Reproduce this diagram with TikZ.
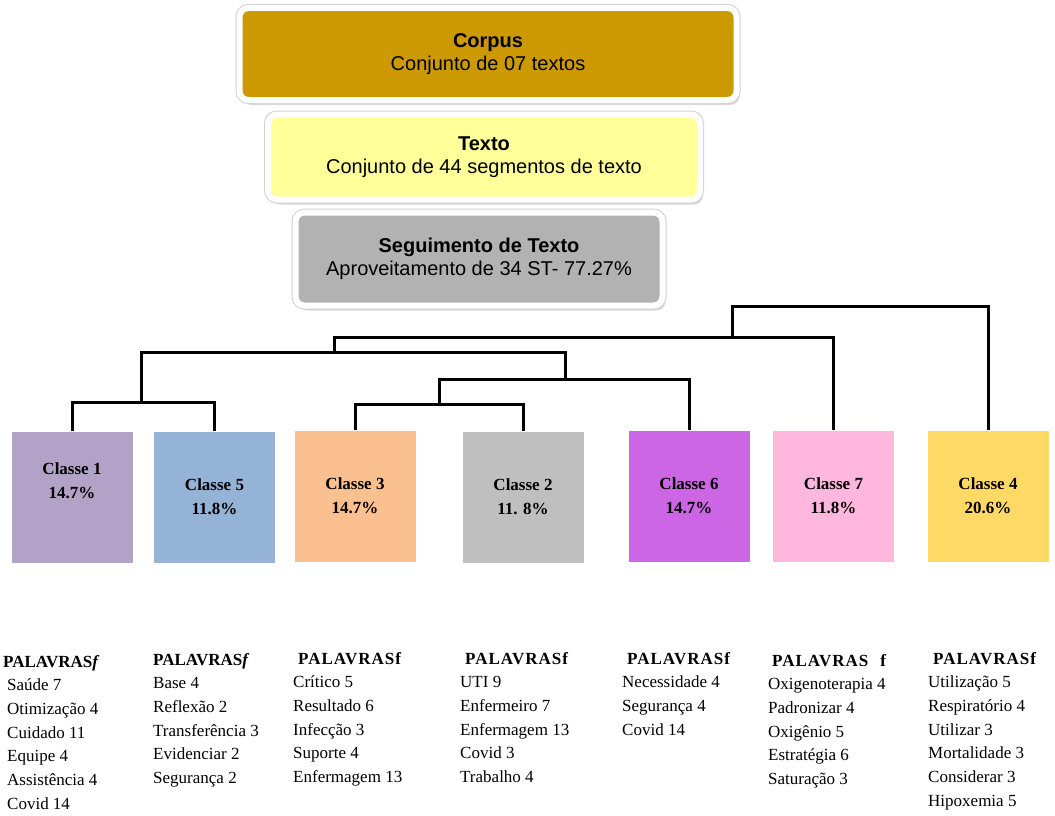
\documentclass[tikz,border=0pt]{standalone}
\usepackage{fontspec}
\setmainfont{Liberation Serif}
\newfontfamily\arialfont{Liberation Sans}
\usetikzlibrary{shadows}
\definecolor{corpusgold}{RGB}{204,153,0}
\definecolor{textoyellow}{RGB}{255,255,153}
\definecolor{stgray}{RGB}{178,178,178}
\definecolor{clsone}{RGB}{179,162,199}
\definecolor{clsfive}{RGB}{149,179,215}
\definecolor{clsthree}{RGB}{250,192,144}
\definecolor{clstwo}{RGB}{191,191,191}
\definecolor{clssix}{RGB}{204,102,229}
\definecolor{clsseven}{RGB}{255,183,222}
\definecolor{clsfour}{RGB}{255,217,102}

\begin{document}
\begin{tikzpicture}[
      x=1pt,y=-1pt,
      topbox/.style={draw=white,line width=6pt,rounded corners=9pt,align=center,inner sep=0pt,font=\arialfont\fontsize{20}{23}\selectfont,drop shadow={shadow xshift=3pt,shadow yshift=-5pt,opacity=0.3},preaction={draw=black!18,line width=8pt}},
      cls/.style={minimum width=121pt,minimum height=131pt,align=center,inner sep=0pt,font=\bfseries\fontsize{17}{24}\selectfont},
      words/.style={anchor=north west,align=left,inner sep=0pt,font=\fontsize{17}{23.7}\selectfont},
      link/.style={line width=3pt}
    ]
      \useasboundingbox (0,0) rectangle (1055,816);
      \node[topbox,fill=corpusgold,minimum width=497pt,minimum height=92pt] (corpus) at (488,54) {\textbf{Corpus}\\Conjunto de 07 textos};
      \node[topbox,fill=textoyellow,minimum width=432pt,minimum height=85pt] (texto) at (484,157) {\textbf{Texto}\\Conjunto de 44 segmentos de texto};
      \node[topbox,fill=stgray,minimum width=367pt,minimum height=93pt] (seg) at (479,259) {\textbf{Seguimento de Texto}\\Aproveitamento de 34 ST- 77.27\%};
      \node[cls,fill=clsone] (c1) at (72,497) {Classe 1\\14.7\%\\[8pt]};
      \node[cls,fill=clsfive] (c5) at (214.5,497) {Classe 5\\11.8\%};
      \node[cls,fill=clsthree] (c3) at (355,496) {Classe 3\\14.7\%};
      \node[cls,fill=clstwo] (c2) at (523,497) {Classe 2\\11. 8\%};
      \node[cls,fill=clssix] (c6) at (689,496) {Classe 6\\14.7\%};
      \node[cls,fill=clsseven] (c7) at (833.5,496) {Classe 7\\11.8\%};
      \node[cls,fill=clsfour] (c4) at (988,496) {Classe 4\\20.6\%};
      \coordinate (j15) at (141,402);
      \coordinate (j32) at (439,404);
      \coordinate (j326) at (565,379);
      \coordinate (j16) at (334,352);
      \coordinate (j17) at (732,337);
      \coordinate (jall) at (732,306);
      \draw[link] (c1.north) |- (j15) -| (c5.north);
      \draw[link] (c3.north) |- (j32) -| (c2.north);
      \draw[link] (j32) |- (j326) -| (c6.north);
      \draw[link] (j15) |- (j16) -| (j326);
      \draw[link] (j16) |- (j17) -| (c7.north);
      \draw[link] (j17) -- (jall) -| (c4.north);
      \node[words] (w1) at (7,655) {\hspace*{-4pt}\textbf{PALAVRAS\textit{f}}\\Saúde 7\\Otimização 4\\Cuidado 11\\Equipe 4\\Assistência 4\\Covid 14};
      \node[words] (w2) at (153,653) {\textbf{PALAVRAS\textit{f}}\\Base 4\\Reflexão 2\\Transferência 3\\Evidenciar 2\\Segurança 2};
      \node[words] (w3) at (293,652) {\hspace*{5pt}\textbf{\addfontfeature{LetterSpace=6}PALAVRASf}\\Crítico 5\\Resultado 6\\Infecção 3\\Suporte 4\\Enfermagem 13};
      \node[words] (w4) at (460,652) {\hspace*{5pt}\textbf{\addfontfeature{LetterSpace=6}PALAVRASf}\\UTI 9\\Enfermeiro 7\\Enfermagem 13\\Covid 3\\Trabalho 4};
      \node[words] (w5) at (622,652) {\hspace*{5pt}\textbf{\addfontfeature{LetterSpace=6}PALAVRASf}\\Necessidade 4\\Segurança 4\\Covid 14};
      \node[words] (w6) at (768,654) {\hspace*{4pt}\textbf{\addfontfeature{LetterSpace=6}PALAVRAS\hspace{12pt}f}\\Oxigenoterapia 4\\Padronizar 4\\Oxigênio 5\\Estratégia 6\\Saturação 3};
      \node[words] (w7) at (928,652) {\hspace*{5pt}\textbf{\addfontfeature{LetterSpace=6}PALAVRASf}\\Utilização 5\\Respiratório 4\\Utilizar 3\\Mortalidade 3\\Considerar 3\\Hipoxemia 5};
    \end{tikzpicture}
\end{document}
